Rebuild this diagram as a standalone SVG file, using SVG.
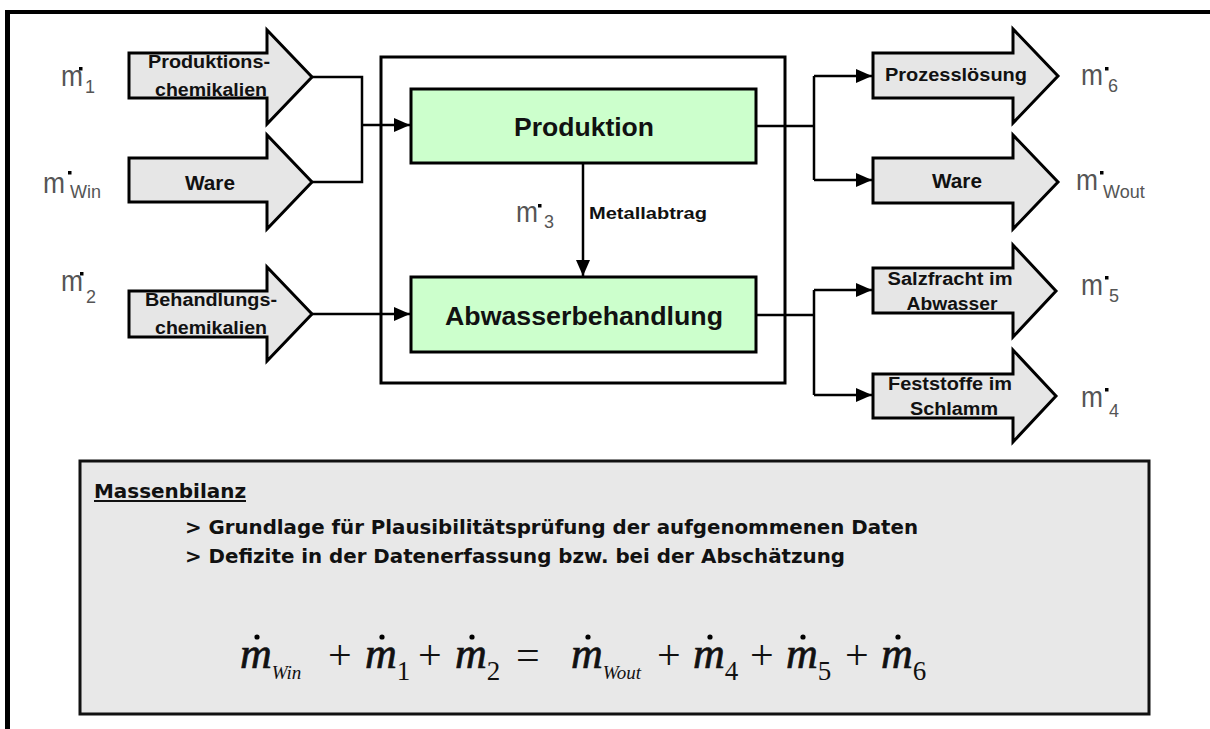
<svg xmlns="http://www.w3.org/2000/svg" width="1210" height="729" viewBox="0 0 1210 729">
  <defs>
    <marker id="ah" markerUnits="userSpaceOnUse" markerWidth="16" markerHeight="14" refX="16" refY="7" orient="auto">
      <path d="M0,0 L16,7 L0,14 z" fill="#000"/>
    </marker>
    <style>
      .frame{fill:#000}
      .blk{fill:#e6e6e6;stroke:#000;stroke-width:3;stroke-linejoin:miter}
      .sys{fill:none;stroke:#000;stroke-width:3}
      .proc{fill:#ccffcc;stroke:#000;stroke-width:3}
      .wire{fill:none;stroke:#000;stroke-width:2.5}
      .lbl{font-family:"Liberation Sans",Arial,sans-serif;font-weight:bold;fill:#111;text-anchor:middle}
      .big{font-family:"Liberation Sans",Arial,sans-serif;font-weight:bold;font-size:26px;fill:#111;text-anchor:middle}
      .m{font-family:"Liberation Sans",Arial,sans-serif;font-size:30px;fill:#555}
      .sub{font-family:"Liberation Sans",Arial,sans-serif;font-size:18px;fill:#555}
      .dot{fill:#000}
      .note{fill:#e8e8e8;stroke:#111;stroke-width:3}
      .txt{font-family:"DejaVu Sans",Verdana,sans-serif;font-weight:bold;font-size:19px;fill:#111}
      .em{font-family:"Liberation Serif","Times New Roman",serif;font-style:italic;font-size:44px;fill:#111}
      .em .mm{stroke:#111;stroke-width:0.7}
      .em .ei{font-size:19px}
      .em .en{font-style:normal;font-size:27px}
      .op{font-family:"Liberation Serif","Times New Roman",serif;font-size:42px;fill:#111}
    </style>
  </defs>

  <rect width="1210" height="729" fill="#fff"/>

  <!-- page frame (top and left edges) -->
  <rect class="frame" x="5" y="10" width="1205" height="4"/>
  <rect class="frame" x="5" y="10" width="5" height="719"/>

  <!-- system boundary -->
  <g id="system">
    <rect class="sys" x="381" y="57" width="404" height="326"/>
  </g>

  <!-- process boxes -->
  <g id="produktion">
    <rect class="proc" x="411" y="89" width="345" height="74"/>
    <text class="big" x="584" y="136" textLength="140" lengthAdjust="spacingAndGlyphs">Produktion</text>
  </g>
  <g id="abwasserbehandlung">
    <rect class="proc" x="411" y="277" width="345" height="75"/>
    <text class="big" x="584" y="325" textLength="278" lengthAdjust="spacingAndGlyphs">Abwasserbehandlung</text>
  </g>

  <!-- input flows -->
  <g id="in-produktionschemikalien">
    <polygon class="blk" points="129,53 267,53 267,30 312,77 267,124 267,98 129,98"/>
    <text class="lbl" x="209" y="68" font-size="18" textLength="122" lengthAdjust="spacingAndGlyphs">Produktions-</text>
    <text class="lbl" x="211" y="96" font-size="18" textLength="112" lengthAdjust="spacingAndGlyphs">chemikalien</text>
  </g>
  <g id="in-ware">
    <polygon class="blk" points="129,158 267,158 267,135 312,182 267,229 267,202 129,202"/>
    <text class="lbl" x="210" y="190" font-size="20" textLength="50" lengthAdjust="spacingAndGlyphs">Ware</text>
  </g>
  <g id="in-behandlungschemikalien">
    <polygon class="blk" points="129,291 267,291 267,267 312,314 267,361 267,337 129,337"/>
    <text class="lbl" x="211" y="306" font-size="18" textLength="132" lengthAdjust="spacingAndGlyphs">Behandlungs-</text>
    <text class="lbl" x="211" y="334" font-size="18" textLength="112" lengthAdjust="spacingAndGlyphs">chemikalien</text>
  </g>

  <!-- output flows -->
  <g id="out-prozessloesung">
    <polygon class="blk" points="873,53 1013,53 1013,29 1058,76 1013,123 1013,98 873,98"/>
    <text class="lbl" x="956" y="81" font-size="19" textLength="142" lengthAdjust="spacingAndGlyphs">Prozesslösung</text>
  </g>
  <g id="out-ware">
    <polygon class="blk" points="873,158 1013,158 1013,135 1058,182 1013,229 1013,203 873,203"/>
    <text class="lbl" x="957" y="188" font-size="20" textLength="50" lengthAdjust="spacingAndGlyphs">Ware</text>
  </g>
  <g id="out-salzfracht">
    <polygon class="blk" points="873,268 1013,268 1013,245 1056,291 1013,337 1013,313 873,313"/>
    <text class="lbl" x="950" y="285" font-size="18" textLength="125" lengthAdjust="spacingAndGlyphs">Salzfracht im</text>
    <text class="lbl" x="952" y="310" font-size="18" textLength="91" lengthAdjust="spacingAndGlyphs">Abwasser</text>
  </g>
  <g id="out-feststoffe">
    <polygon class="blk" points="873,374 1013,374 1013,350 1056,396 1013,442 1013,418 873,418"/>
    <text class="lbl" x="950" y="390" font-size="18" textLength="124" lengthAdjust="spacingAndGlyphs">Feststoffe im</text>
    <text class="lbl" x="954" y="415" font-size="18" textLength="88" lengthAdjust="spacingAndGlyphs">Schlamm</text>
  </g>

  <!-- connectors -->
  <g id="connectors">
    <path class="wire" d="M312,77 H362 V182 H312"/>
    <path class="wire" d="M362,125 H410" marker-end="url(#ah)"/>
    <path class="wire" d="M312,314 H410" marker-end="url(#ah)"/>
    <path class="wire" d="M583,163 V276" marker-end="url(#ah)"/>
    <path class="wire" d="M756,126 H814 M814,76 V180"/>
    <path class="wire" d="M814,76 H872" marker-end="url(#ah)"/>
    <path class="wire" d="M814,180 H872" marker-end="url(#ah)"/>
    <path class="wire" d="M756,315 H814 M814,290 V395"/>
    <path class="wire" d="M814,290 H872" marker-end="url(#ah)"/>
    <path class="wire" d="M814,395 H872" marker-end="url(#ah)"/>
    <text class="lbl" x="648" y="219" font-size="17" textLength="118" lengthAdjust="spacingAndGlyphs">Metallabtrag</text>
  </g>

  <!-- mass flow symbols -->
  <g id="flow-symbols">
    <text class="m" x="61" y="86" textLength="22" lengthAdjust="spacingAndGlyphs">m</text>
    <rect class="dot" x="79" y="67" width="3.5" height="3.5"/>
    <text class="sub" x="85" y="93">1</text>

    <text class="m" x="43" y="193" textLength="22" lengthAdjust="spacingAndGlyphs">m</text>
    <rect class="dot" x="68" y="171" width="3.5" height="3.5"/>
    <text class="sub" x="70" y="198">Win</text>

    <text class="m" x="61" y="291" textLength="22" lengthAdjust="spacingAndGlyphs">m</text>
    <rect class="dot" x="80" y="272" width="3.5" height="3.5"/>
    <text class="sub" x="86" y="303">2</text>

    <text class="m" x="516" y="222" textLength="22" lengthAdjust="spacingAndGlyphs">m</text>
    <rect class="dot" x="538" y="204" width="3.5" height="3.5"/>
    <text class="sub" x="544" y="228">3</text>

    <text class="m" x="1081" y="85" textLength="22" lengthAdjust="spacingAndGlyphs">m</text>
    <rect class="dot" x="1105" y="67" width="3.5" height="3.5"/>
    <text class="sub" x="1108" y="92">6</text>

    <text class="m" x="1076" y="190" textLength="22" lengthAdjust="spacingAndGlyphs">m</text>
    <rect class="dot" x="1100" y="171" width="3.5" height="3.5"/>
    <text class="sub" x="1103" y="198">Wout</text>

    <text class="m" x="1081" y="295" textLength="22" lengthAdjust="spacingAndGlyphs">m</text>
    <rect class="dot" x="1105" y="276" width="3.5" height="3.5"/>
    <text class="sub" x="1109" y="302">5</text>

    <text class="m" x="1081" y="407" textLength="22" lengthAdjust="spacingAndGlyphs">m</text>
    <rect class="dot" x="1105" y="388" width="3.5" height="3.5"/>
    <text class="sub" x="1109" y="417">4</text>
  </g>

  <!-- mass balance note -->
  <g id="massenbilanz">
    <rect class="note" x="80" y="461" width="1069" height="253"/>
    <text class="txt" x="94" y="498" textLength="152" lengthAdjust="spacingAndGlyphs">Massenbilanz</text>
    <rect x="94" y="500" width="152" height="2" fill="#111"/>
    <text class="txt" x="185" y="534" textLength="733" lengthAdjust="spacingAndGlyphs">&gt; Grundlage für Plausibilitätsprüfung der aufgenommenen Daten</text>
    <text class="txt" x="185" y="563" textLength="660" lengthAdjust="spacingAndGlyphs">&gt; Defizite in der Datenerfassung bzw. bei der Abschätzung</text>

    <!-- balance equation: each term is one text (m with its subscript) -->
    <g id="equation">
      <text class="em" x="240" y="668"><tspan class="mm">m</tspan><tspan class="ei" dy="11">Win</tspan></text>
      <circle class="dot" cx="257" cy="637" r="2.6"/>
      <text class="op" x="328" y="669">+</text>

      <text class="em" x="365" y="668"><tspan class="mm">m</tspan><tspan class="en" dy="12">1</tspan></text>
      <circle class="dot" cx="382" cy="637" r="2.6"/>
      <text class="op" x="418" y="669">+</text>

      <text class="em" x="455" y="668"><tspan class="mm">m</tspan><tspan class="en" dy="12">2</tspan></text>
      <circle class="dot" cx="472" cy="637" r="2.6"/>
      <text class="op" x="516" y="669">=</text>

      <text class="em" x="571" y="668"><tspan class="mm">m</tspan><tspan class="ei" dy="11">Wout</tspan></text>
      <circle class="dot" cx="588" cy="637" r="2.6"/>
      <text class="op" x="657" y="669">+</text>

      <text class="em" x="693" y="668"><tspan class="mm">m</tspan><tspan class="en" dy="12">4</tspan></text>
      <circle class="dot" cx="710" cy="637" r="2.6"/>
      <text class="op" x="750" y="669">+</text>

      <text class="em" x="786" y="668"><tspan class="mm">m</tspan><tspan class="en" dy="12">5</tspan></text>
      <circle class="dot" cx="803" cy="637" r="2.6"/>
      <text class="op" x="845" y="669">+</text>

      <text class="em" x="881" y="668"><tspan class="mm">m</tspan><tspan class="en" dy="12">6</tspan></text>
      <circle class="dot" cx="898" cy="637" r="2.6"/>
    </g>
  </g>
</svg>
